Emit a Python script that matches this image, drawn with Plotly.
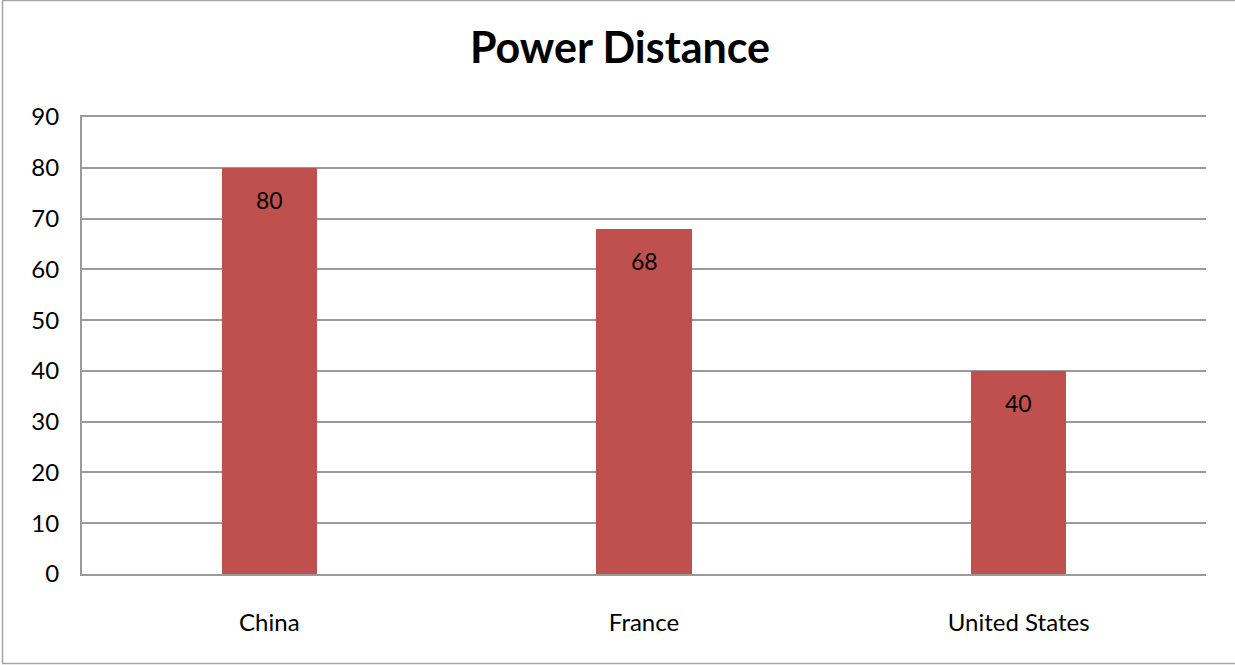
import plotly.graph_objects as go

countries = ["China", "France", "United States"]
power_distance = [80, 68, 40]
y_ticks = [0, 10, 20, 30, 40, 50, 60, 70, 80, 90]

W, H = 1235, 665
L, R, T, B = 82, 29, 117, 91

FONT = "Lato, 'Open Sans', sans-serif"
GRID = "#9a9a9a"

fig = go.Figure(
    go.Bar(
        x=countries,
        y=power_distance,
        width=0.254,
        marker=dict(color="#C0504D", line=dict(width=0)),
        hoverinfo="x+y",
    )
)

# value labels placed just inside the top of each bar
for c, v in zip(countries, power_distance):
    fig.add_annotation(
        x=c, y=v, text=str(v), showarrow=False, yshift=-32,
        font=dict(family=FONT, size=23, color="#000000"),
    )

pw, ph = W - L - R, H - T - B
# chart outline
fig.add_shape(
    type="rect", xref="paper", yref="paper",
    x0=(2.5 - L) / pw, x1=(W + 5 - L) / pw,
    y0=-(H - 1.5 - T - ph) / ph, y1=1 + (T - 0.5) / ph,
    line=dict(color="#a6a6a6", width=1.5), fillcolor="rgba(0,0,0,0)",
    layer="below",
)

fig.update_layout(
    width=W, height=H,
    margin=dict(l=L, r=R, t=T, b=B, autoexpand=False),
    paper_bgcolor="white", plot_bgcolor="white",
    showlegend=False,
    title=dict(
        text="<b>Power Distance</b>", x=0.502, xanchor="center",
        y=1 - 48 / H, yanchor="middle",
        font=dict(family=FONT, size=43, color="#000000"),
    ),
    bargap=0,
)
# mirrored x-axis line doubles as the top (90) gridline
fig.update_xaxes(
    showline=True, linecolor=GRID, linewidth=2, mirror=True,
    showgrid=False, ticks="", ticklabelstandoff=26,
    tickfont=dict(family=FONT, size=24, color="#000000"),
)
fig.update_yaxes(
    range=[0, 90], tickvals=y_ticks,
    showline=True, linecolor=GRID, linewidth=2,
    showgrid=True, gridcolor=GRID, gridwidth=2,
    zeroline=False, ticks="", ticklabelstandoff=16,
    tickfont=dict(family=FONT, size=24, color="#000000"),
)

fig.write_html("out.html")
